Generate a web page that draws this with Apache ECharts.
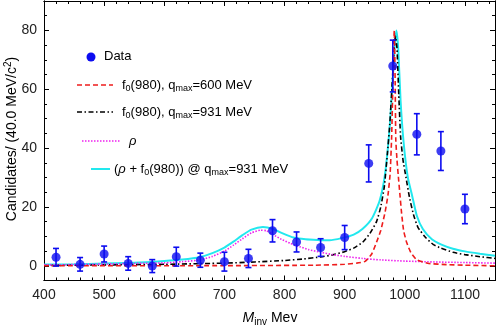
<!DOCTYPE html>
<html><head><meta charset="utf-8">
<script src="https://cdn.jsdelivr.net/npm/echarts@6/dist/echarts.min.js"></script>
<style>html,body{margin:0;padding:0;background:#fff}#c{width:498px;height:327px}</style>
</head><body><div id="c"></div>
<script>
// ---- data ----
const massBins = [420,460,500,540,580,620,660,700,740,780,820,860,900,940,980,1020,1060,1100];
const counts   = [2.9,0.5,4.0,0.8,-0.1,3.1,1.9,1.4,2.5,11.9,8.1,6.2,9.6,34.8,67.9,44.7,39.0,19.3];
const errors   = [3.0,2.3,2.7,2.3,2.2,3.2,2.4,3.2,3.1,3.8,3.4,3.0,4.1,6.3,8.8,7.0,6.6,5.0];

const f0q600 = [[400,0],[700,0.05],[850,0.2],[900,0.5],[920,0.9],[934,1.5],[945,4],[953,8],[960,12],[967,18],[972,24],[975.5,31],[978,43],[980,60],[981.5,75],[982.5,80],[984,62],[985,43],[987,36],[989,31],[992,24],[994.6,18],[998,12],[1003,8],[1010,4.5],[1020,2],[1040,0.8],[1070,0.4],[1100,0.2],[1150,0]];
const f0q931 = [[400,0.1],[500,0.3],[600,0.5],[700,0.9],[750,1.3],[800,1.8],[830,2.3],[860,3.0],[880,3.7],[900,4.8],[915,6],[930,8],[942,11],[953,15],[960,20],[966,27],[971,38],[975,48],[979,62],[982,73],[984.5,78],[987,74],[990,58],[993,44],[997,36],[1002,30],[1008,23],[1015,17],[1022,13],[1035,9.5],[1047,7.3],[1060,6],[1080,4.6],[1100,3.8],[1125,3.1],[1150,2.5]];
const rhoCurve = [[400,0.3],[450,0.4],[500,0.6],[550,0.8],[600,1.0],[630,1.4],[660,2.0],[680,3.2],[700,5.0],[715,7],[730,9.2],[745,11.2],[760,12.1],[770,11.9],[781,10.6],[795,9.0],[810,7.6],[825,6.5],[840,5.5],[860,4.6],[880,3.8],[900,3.2],[930,2.5],[960,2.0],[1000,1.6],[1050,1.3],[1100,1.1],[1150,0.9]];
const sumCurve = [[400,0.4],[450,0.5],[500,0.8],[550,1.0],[600,1.6],[630,2.1],[660,3.0],[680,4.3],[700,6.2],[715,8.2],[730,10.4],[745,12.3],[764,13.2],[780,12.6],[795,11.2],[815,9.6],[835,9.0],[855,8.8],[875,8.7],[895,9.4],[915,10.6],[930,12.6],[945,16],[958,22],[967,31],[974,45],[979,60],[983,74],[986,80],[989,74],[993,56],[998,42],[1005,30],[1012,24],[1020,17],[1030,12.5],[1045,9],[1060,7.3],[1080,5.8],[1100,4.9],[1125,4.1],[1150,3.4]];

const xMajorTicks = [400,500,600,700,800,900,1000,1100];
const yMajorTicks = [0,20,40,60,80];

// ---- chart ----
const FONT = 'Liberation Sans, Arial, sans-serif';
const BLUE = '#0c0cf0';
const chart = echarts.init(document.getElementById('c'), null, {renderer:'canvas'});

function xAxisDef(pos, major, labels){
  return {type:'value', min:400, max:1150, position:pos,
    axisLine:{show:true, onZero:false, lineStyle:{color:'#000', width:1}},
    axisTick:major ? {show:true, inside:true, length:5, customValues:xMajorTicks, lineStyle:{color:'#000'}}
                   : {show:true, inside:true, length:3, lineStyle:{color:'#000'}},
    interval: major ? 100 : 20,
    axisLabel: labels ? {show:true, customValues:xMajorTicks, margin:8, fontSize:14, color:'#222', fontFamily:FONT,
                         formatter:function(v){return String(v);}} : {show:false},
    splitLine:{show:false}};
}
function yAxisDef(pos, major, labels){
  return {type:'value', min:-5, max:90, position:pos, interval:5,
    axisLine:{show:true, onZero:false, lineStyle:{color:'#000', width:1}},
    axisTick:major ? {show:true, inside:true, length:5, customValues:yMajorTicks, lineStyle:{color:'#000'}}
                   : {show:true, inside:true, length:3, lineStyle:{color:'#000'}},
    axisLabel: labels ? {show:true, customValues:yMajorTicks, margin:7, fontSize:14, color:'#222', fontFamily:FONT,
                         formatter:function(v){return String(v);}} : {show:false},
    splitLine:{show:false}};
}

const errData = massBins.map((m,i)=>[m, counts[i]-errors[i], counts[i]+errors[i]]);
const ptData = massBins.map((m,i)=>[m, counts[i]]);

const subTxt = {
  t:{fontSize:13, fontFamily:FONT, color:'#222', lineHeight:16, verticalAlign:'middle'},
  s:{fontSize:9, fontFamily:FONT, color:'#222', lineHeight:16, verticalAlign:'bottom'},
  i:{fontSize:13, fontFamily:FONT, color:'#222', lineHeight:16, fontStyle:'italic', verticalAlign:'middle'}
};

function legLine(x1,x2,y,color,dash,w){
  return {type:'line', shape:{x1:x1,y1:y,x2:x2,y2:y}, style:{stroke:color, lineWidth:w, lineDash:dash}, z:100};
}
function legText(x,y,text){
  return {type:'text', x:x, y:y, style:{text:text, rich:subTxt, verticalAlign:'middle', align:'left'}, z:100};
}

chart.setOption({
  animation:false,
  backgroundColor:'#fff',
  grid:{left:44, right:3, top:1, bottom:46.5, containLabel:false},
  xAxis:[xAxisDef('bottom',true,true), xAxisDef('bottom',false,false), xAxisDef('top',true,false), xAxisDef('top',false,false)],
  yAxis:[yAxisDef('left',true,true), yAxisDef('left',false,false), yAxisDef('right',true,false), yAxisDef('right',false,false)],
  series:[
    {type:'line', data:sumCurve, smooth:0.2, showSymbol:false, lineStyle:{color:'#22e8ee', width:2}, z:2},
    {type:'line', data:f0q931, smooth:0.15, showSymbol:false, lineStyle:{color:'#000', width:1.6, type:[5,2.5,1.5,2.5]}, z:3},
    {type:'line', data:rhoCurve, smooth:0.2, showSymbol:false, lineStyle:{color:'#ee22ee', width:1.6, type:[1.5,1.5]}, z:3},
    {type:'line', data:f0q600, smooth:0.15, showSymbol:false, lineStyle:{color:'#ee1c1c', width:1.6, type:[5,3]}, z:4},
    {type:'custom', data:errData, encode:{x:0, y:[1,2]}, z:5,
      renderItem:function(params, api){
        const x = api.value(0);
        const lo = api.coord([x, api.value(1)]);
        const hi = api.coord([x, api.value(2)]);
        const w = 3;
        const st = {stroke:BLUE, lineWidth:1.6};
        return {type:'group', children:[
          {type:'line', shape:{x1:lo[0], y1:lo[1], x2:hi[0], y2:hi[1]}, style:st},
          {type:'line', shape:{x1:lo[0]-w, y1:lo[1], x2:lo[0]+w, y2:lo[1]}, style:st},
          {type:'line', shape:{x1:hi[0]-w, y1:hi[1], x2:hi[0]+w, y2:hi[1]}, style:st}
        ]};
      }},
    {type:'scatter', data:ptData, symbol:'circle', symbolSize:9, itemStyle:{color:BLUE}, z:6}
  ],
  graphic:[
    {type:'circle', shape:{cx:91, cy:57, r:4.5}, style:{fill:BLUE}, z:100},
    legText(104,56,'{t|Data}'),
    legLine(77,113,85,'#ee1c1c',[5,3],1.6),
    legText(122,85,'{t|f}{s|0}{t|(980), q}{s|max}{t|=600 MeV}'),
    legLine(77,113,112,'#000',[5,2.5,1.5,2.5],1.6),
    legText(122,112,'{t|f}{s|0}{t|(980), q}{s|max}{t|=931 MeV}'),
    legLine(82,120,141,'#ee22ee',[1.5,1.5],1.6),
    legText(129,141,'{i|ρ}'),
    legLine(91,110,169,'#22e8ee',null,2),
    legText(114,169,'{t|(}{i|ρ}{t| + f}{s|0}{t|(980)) @ q}{s|max}{t|=931 MeV}'),
    {type:'text', x:270, y:318, style:{text:'{i|M}{s|inv}{t| Mev}', align:'center', verticalAlign:'middle',
      rich:{i:{fontSize:14, fontFamily:FONT, fontStyle:'italic', color:'#222', lineHeight:18, verticalAlign:'middle'},
            s:{fontSize:10, fontFamily:FONT, color:'#222', lineHeight:18, verticalAlign:'bottom'},
            t:{fontSize:14, fontFamily:FONT, color:'#222', lineHeight:18, verticalAlign:'middle'}}}, z:100},
    {type:'text', x:12, y:139, rotation:Math.PI/2, style:{text:'{t|Candidates/ (40.0 MeV/c}{p|2}{t|)}', align:'center', verticalAlign:'middle',
      rich:{t:{fontSize:14, fontFamily:FONT, color:'#222', lineHeight:18, verticalAlign:'middle'},
            p:{fontSize:10, fontFamily:FONT, color:'#222', lineHeight:18, verticalAlign:'top'}}}, z:100}
  ]
});
</script></body></html>
